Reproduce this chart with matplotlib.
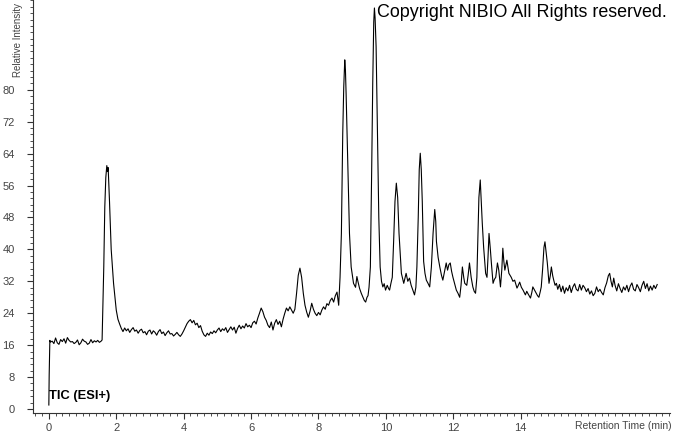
import matplotlib
matplotlib.use("Agg")
import matplotlib.pyplot as plt
from matplotlib.ticker import MultipleLocator

# retention time (min) and relative intensity
rt = [0.00, 0.01, 0.03,
      0.05, 0.10, 0.15, 0.20, 0.25, 0.30, 0.35, 0.40, 0.45, 0.50, 0.55, 0.60, 0.65, 0.70, 0.75, 0.80,
      0.85, 0.90, 0.95, 1.00, 1.05, 1.10, 1.15, 1.20, 1.25, 1.30, 1.35, 1.40, 1.45, 1.50, 1.55, 1.58,
      1.63, 1.66, 1.69, 1.72, 1.74, 1.76, 1.80, 1.85, 1.92, 2.00, 2.05, 2.10, 2.15,
      2.20, 2.25, 2.30, 2.35, 2.40, 2.45, 2.50, 2.55, 2.60, 2.65, 2.70, 2.75, 2.80, 2.85, 2.90, 2.95,
      3.00, 3.05, 3.10, 3.15, 3.20, 3.25, 3.30, 3.35, 3.40, 3.45, 3.50, 3.55, 3.60, 3.65, 3.70, 3.75,
      3.80, 3.85, 3.90, 3.95, 4.00, 4.05, 4.10, 4.15, 4.20, 4.25, 4.30, 4.35, 4.40, 4.45, 4.50, 4.55,
      4.60, 4.65, 4.70, 4.75, 4.80, 4.85, 4.90, 4.95, 5.00, 5.05, 5.10, 5.15, 5.20, 5.25, 5.30, 5.35,
      5.40, 5.45, 5.50, 5.55, 5.60, 5.65, 5.70, 5.75, 5.80, 5.85, 5.90, 5.95, 6.00, 6.05, 6.10, 6.15,
      6.20, 6.25, 6.30, 6.35, 6.40, 6.45, 6.50, 6.55, 6.60, 6.65, 6.70, 6.75, 6.80, 6.85, 6.90, 6.95,
      7.00, 7.05, 7.10, 7.15, 7.20, 7.25, 7.30, 7.35, 7.40, 7.45, 7.50, 7.55, 7.60, 7.65, 7.70, 7.75,
      7.80, 7.85, 7.90, 7.95, 8.00, 8.05, 8.10, 8.15, 8.20, 8.25, 8.30, 8.35, 8.40, 8.45, 8.50, 8.55,
      8.60, 8.64, 8.68, 8.72, 8.75, 8.78, 8.80, 8.82, 8.87, 8.92, 8.97, 9.04, 9.10, 9.14, 9.17, 9.22,
      9.27, 9.32, 9.36, 9.40, 9.44, 9.47, 9.50, 9.54, 9.58, 9.61, 9.64, 9.66, 9.68, 9.71, 9.75, 9.79,
      9.83, 9.87, 9.91, 9.95, 9.99, 10.04, 10.08, 10.11, 10.15, 10.19, 10.23, 10.27, 10.31, 10.35,
      10.39, 10.46, 10.53, 10.57, 10.60, 10.65, 10.70, 10.75, 10.80, 10.85, 10.89, 10.92, 10.96, 10.99,
      11.02, 11.05, 11.08, 11.12, 11.16, 11.20, 11.25, 11.30, 11.35, 11.40, 11.45, 11.48, 11.50, 11.55,
      11.60, 11.65, 11.69, 11.74, 11.79, 11.83, 11.87, 11.91, 11.95, 11.99, 12.04, 12.09, 12.14, 12.19,
      12.23, 12.27, 12.31, 12.34, 12.40, 12.44, 12.48, 12.53, 12.58, 12.62, 12.66, 12.70, 12.73, 12.76,
      12.80, 12.83, 12.86, 12.90, 12.96, 13.00, 13.03, 13.06, 13.10, 13.13, 13.18, 13.22, 13.26, 13.31,
      13.35, 13.40, 13.44, 13.47, 13.50, 13.53, 13.56, 13.59, 13.65, 13.72, 13.77, 13.82, 13.89, 13.93,
      13.97, 14.02, 14.07, 14.14, 14.18, 14.21, 14.25, 14.29, 14.33, 14.36, 14.41, 14.46, 14.50, 14.54,
      14.58, 14.61, 14.65, 14.69, 14.72, 14.76, 14.79, 14.84, 14.88, 14.91, 14.95, 14.98, 15.02, 15.06,
      15.10, 15.15, 15.20, 15.25, 15.30, 15.35, 15.40, 15.45, 15.50, 15.55, 15.60, 15.65, 15.70, 15.75,
      15.80, 15.85, 15.90, 15.95, 16.00, 16.05, 16.10, 16.15, 16.20, 16.25, 16.30, 16.35, 16.40, 16.45,
      16.50, 16.55, 16.60, 16.64, 16.68, 16.72, 16.76, 16.80, 16.85, 16.90, 16.95, 17.00, 17.05, 17.10,
      17.15, 17.20, 17.25, 17.30, 17.35, 17.40, 17.45, 17.50, 17.55, 17.60, 17.65, 17.70, 17.75, 17.80,
      17.85, 17.90, 17.95, 18.00, 18.05]

intensity = [1.0, 8.5, 17.2,
      16.8, 17.0, 16.4, 17.8, 16.6, 16.2, 17.4, 16.9, 17.6, 16.5, 17.9, 17.2, 16.8, 16.9, 16.4, 16.7,
      17.3, 16.1, 16.6, 17.5, 17.0, 16.8, 16.2, 16.5, 17.4, 16.6, 17.1, 16.8, 17.2, 16.7, 17.0, 17.3,
      35.6, 50.6, 58.0, 61.0, 59.5, 60.5, 52.0, 40.0, 31.5, 24.8, 22.5, 21.3, 20.2,
      19.4, 20.3, 19.6, 20.1, 19.2, 19.9, 20.4, 19.5, 19.8, 19.0, 19.7, 20.0, 19.1, 19.4, 18.6, 19.5,
      19.8, 18.8, 19.6, 19.2, 18.5, 19.4, 19.9, 18.9, 19.3, 18.4, 19.1, 19.6, 18.8, 18.9, 18.3, 18.7,
      19.2, 18.6, 18.2, 18.8, 19.6, 20.5, 21.4, 22.0, 22.4, 21.6, 22.2, 21.1, 21.5, 20.4, 20.9, 19.5,
      18.6, 18.2, 19.0, 18.5, 19.3, 18.9, 19.6, 19.1, 19.8, 20.3, 19.4, 20.1, 19.7, 20.4, 19.2, 19.9,
      20.6, 19.8, 20.5, 19.0, 20.2, 21.0, 20.1, 20.8, 20.3, 21.4, 20.6, 21.0, 20.4, 21.6, 22.0, 21.3,
      22.8, 24.0, 25.3, 24.4, 23.0, 22.2, 21.0, 20.4, 21.8, 19.8, 21.5, 22.4, 21.2, 22.0, 20.6, 22.5,
      24.0, 25.3, 24.6, 25.6, 24.8, 24.0, 25.0, 29.0, 33.5, 35.3, 33.0, 29.0, 26.0, 24.3, 23.0, 24.5,
      26.5, 25.0, 24.0, 23.4, 24.2, 23.6, 24.8, 25.6, 25.0, 26.4, 26.0, 27.2, 27.8, 26.8, 28.4, 29.3,
      26.0, 33.0, 44.0, 69.0, 80.7, 87.5, 85.0, 79.0, 62.0, 44.0, 35.6, 31.5, 30.5, 33.2, 32.0, 30.2,
      29.0, 28.0, 27.2, 26.8, 28.0, 28.4, 30.5, 35.6, 60.7, 81.6, 97.0, 100.5, 98.0, 90.8, 69.0, 48.0,
      35.6, 32.0, 30.6, 31.4, 29.8, 31.0, 30.2, 29.8, 31.5, 33.0, 42.0, 52.0, 56.6, 53.0,
      44.0, 34.0, 31.5, 33.0, 34.0, 32.0, 32.8, 31.0, 29.8, 28.6, 30.5, 35.6, 48.0, 60.0,
      64.1, 60.0, 52.0, 37.0, 34.0, 32.3, 31.5, 30.6, 35.6, 44.0, 50.0, 47.0, 42.0, 38.0,
      35.6, 33.5, 32.3, 34.5, 36.6, 34.8, 36.2, 36.6, 34.5, 33.0, 31.4, 29.8, 29.0, 28.0,
      31.0, 35.6, 33.0, 31.5, 31.0, 33.5, 36.6, 33.0, 30.6, 29.5, 29.0, 33.0, 43.0, 53.0,
      57.4, 52.0, 46.6, 40.6, 34.0, 33.0, 38.0, 44.0, 40.0, 36.6, 31.5, 32.5, 33.0, 36.6,
      34.8, 30.6, 35.0, 40.3, 37.0, 34.8, 36.0, 37.3, 34.0, 33.0, 32.0, 32.3, 30.3, 31.0,
      31.8, 30.5, 29.8, 28.6, 29.5, 29.0, 28.4, 27.8, 29.2, 30.6, 29.8, 29.0, 28.4, 28.0,
      29.4, 30.6, 35.0, 40.5, 41.9, 39.0, 36.6, 31.5, 33.5, 35.6, 33.4, 32.3, 31.0, 31.5,
      30.0, 31.2, 29.4, 30.8, 29.0, 30.4, 29.6, 31.0, 29.2, 30.6, 31.4, 30.0, 29.6, 31.2,
      29.8, 31.0, 30.4, 29.4, 30.2, 28.8, 29.6, 28.4, 29.0, 30.6, 29.4, 30.0, 29.2, 28.6,
      30.4, 31.6, 33.4, 34.0, 32.0, 30.6, 32.8, 31.0, 29.6, 31.4, 30.2, 29.2, 30.6, 29.8,
      31.0, 29.4, 30.8, 31.6, 30.0, 29.6, 31.2, 30.4, 29.4, 31.0, 32.0, 30.2, 31.4, 29.6,
      30.8, 29.8, 31.0, 30.2, 31.2]

fig = plt.figure(figsize=(6.74, 4.34), dpi=100)
ax = fig.add_axes([33 / 674, 21 / 434, 637 / 674, 413 / 434])
ax.plot(rt, intensity, color='black', lw=0.8)

ax.set_xlim(-0.47, 18.43)
ax.set_ylim(-1, 102.5)
for s in ['top', 'right']:
    ax.spines[s].set_visible(False)
for s in ['left', 'bottom']:
    ax.spines[s].set_color('#333333')
    ax.spines[s].set_linewidth(0.8)

ax.xaxis.set_minor_locator(MultipleLocator(0.2))
ax.yaxis.set_minor_locator(MultipleLocator(1.6))
ax.set_xticks(range(0, 16, 2))
ax.set_yticks(range(0, 88, 8))
ax.tick_params(axis='both', which='major', length=4, width=0.8, color='#333333',
               labelsize=8, labelcolor='#444444', labelfontfamily='Liberation Sans')
ax.tick_params(axis='both', which='minor', length=2, width=0.6, color='#333333')
ax.tick_params(axis='y', which='major', pad=9)
ax.tick_params(axis='x', which='major', pad=3)

fig.text(672 / 674, 1 - 426 / 434, 'Retention Time (min)', ha='right', va='center',
         fontsize=7.5, color='#444444', family='Liberation Sans')
fig.text(18 / 674, 1 - 77 / 434, 'Relative Intensity', rotation=90, ha='center', va='bottom',
         fontsize=7, color='#444444', family='Liberation Sans')
fig.text(377 / 674, 1 - 4 / 434, 'Copyright NIBIO All Rights reserved.', ha='left', va='top',
         fontsize=12.9, color='black', family='Liberation Sans')
fig.text(49 / 674, 1 - 399 / 434, 'TIC (ESI+)', ha='left', va='baseline',
         fontsize=9.3, fontweight='bold', color='black', family='Liberation Sans')

fig.savefig('out.png', dpi=100)
